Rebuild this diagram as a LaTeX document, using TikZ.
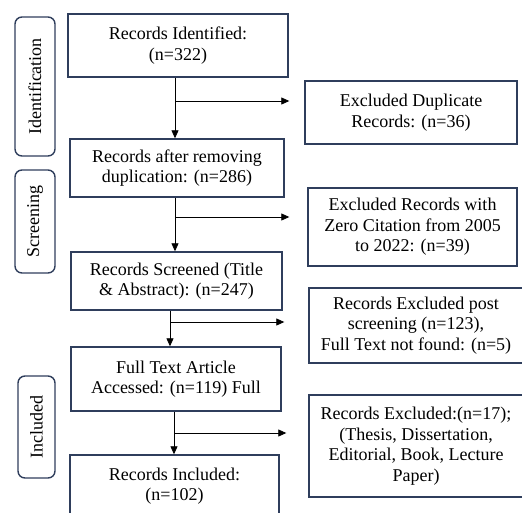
\documentclass[tikz,border=0pt]{standalone}
\usepackage{fontspec}
\setmainfont{Liberation Serif}
\usetikzlibrary{arrows.meta}
\definecolor{edgeblue}{RGB}{47,62,92}
\tikzset{
	box/.style={draw=edgeblue, line width=1.4pt, align=center, inner sep=2pt},
	side/.style={draw=edgeblue, line width=1.4pt, rounded corners=7pt, rotate=90, inner sep=2pt},
	arr/.style={line width=0.8pt, -{Triangle[length=8pt, width=7pt]}}
}
\begin{document}
\begin{tikzpicture}[x=1pt, y=-1pt, font=\fontsize{18}{20.5}\selectfont]
		\useasboundingbox (0,0) rectangle (522,512);
		% main column
		\node[box, minimum width=220pt, minimum height=63pt] (ident) at (178,45.5) {Records Identified:\\(n=322)};
		\node[box, minimum width=214pt, minimum height=58pt] (dedup) at (177,168) {Records after removing\\duplication: (n=286)};
		\node[box, minimum width=211pt, minimum height=58pt] (screen) at (176.5,281) {Records Screened (Title\\\& Abstract): (n=247)};
		\node[box, minimum width=210pt, minimum height=64pt] (full) at (176,379) {Full Text Article\\Accessed: (n=119) Full};
		\node[box, minimum width=209pt, minimum height=62pt] (incl) at (174.5,486) {Records Included:\\(n=102)};
		% excluded column
		\node[box, minimum width=212pt, minimum height=63pt] (exdup) at (411,112.5) {Excluded Duplicate\\Records: (n=36)};
		\node[box, minimum width=209pt, minimum height=78pt] (excit) at (412.5,227) {Excluded Records with\\Zero Citation from 2005\\to 2022: (n=39)};
		\node[box, minimum width=214pt, minimum height=75pt] (expost) at (416,325.5) {Records Excluded post\\screening (n=123),\\Full Text not found: (n=5)};
		\node[box, minimum width=214pt, minimum height=102pt] (exthes) at (416,446) {Records Excluded:(n=17);\\(Thesis, Dissertation,\\Editorial, Book, Lecture\\Paper)};
		% phases
		\node[side, minimum width=139pt, minimum height=40pt] (pident) at (35,86.5) {Identification};
		\node[side, minimum width=103pt, minimum height=40pt] (pscreen) at (35,221.5) {Screening};
		\node[side, minimum width=102pt, minimum height=37pt] (pincl) at (36.5,427) {Included};
		% flow
		\coordinate (b1) at (175,101);
		\coordinate (b2) at (175,217);
		\coordinate (b3) at (170,322);
		\coordinate (b4) at (174,433);
		\draw[arr] (b1 |- ident.south) -- (b1 |- dedup.north);
		\draw[arr] (b2 |- dedup.south) -- (b2 |- screen.north);
		\draw[arr] (b3 |- screen.south) -- (b3 |- full.north);
		\draw[arr] (b4 |- full.south) -- (b4 |- incl.north);
		\draw[arr, shorten >=15pt] (b1) -- (b1 -| exdup.west);
		\draw[arr, shorten >=18pt] (b2) -- (b2 -| excit.west);
		\draw[arr, shorten >=24pt] (b3) -- (b3 -| expost.west);
		\draw[arr, shorten >=22pt] (b4) -- (b4 -| exthes.west);
	\end{tikzpicture}
\end{document}
